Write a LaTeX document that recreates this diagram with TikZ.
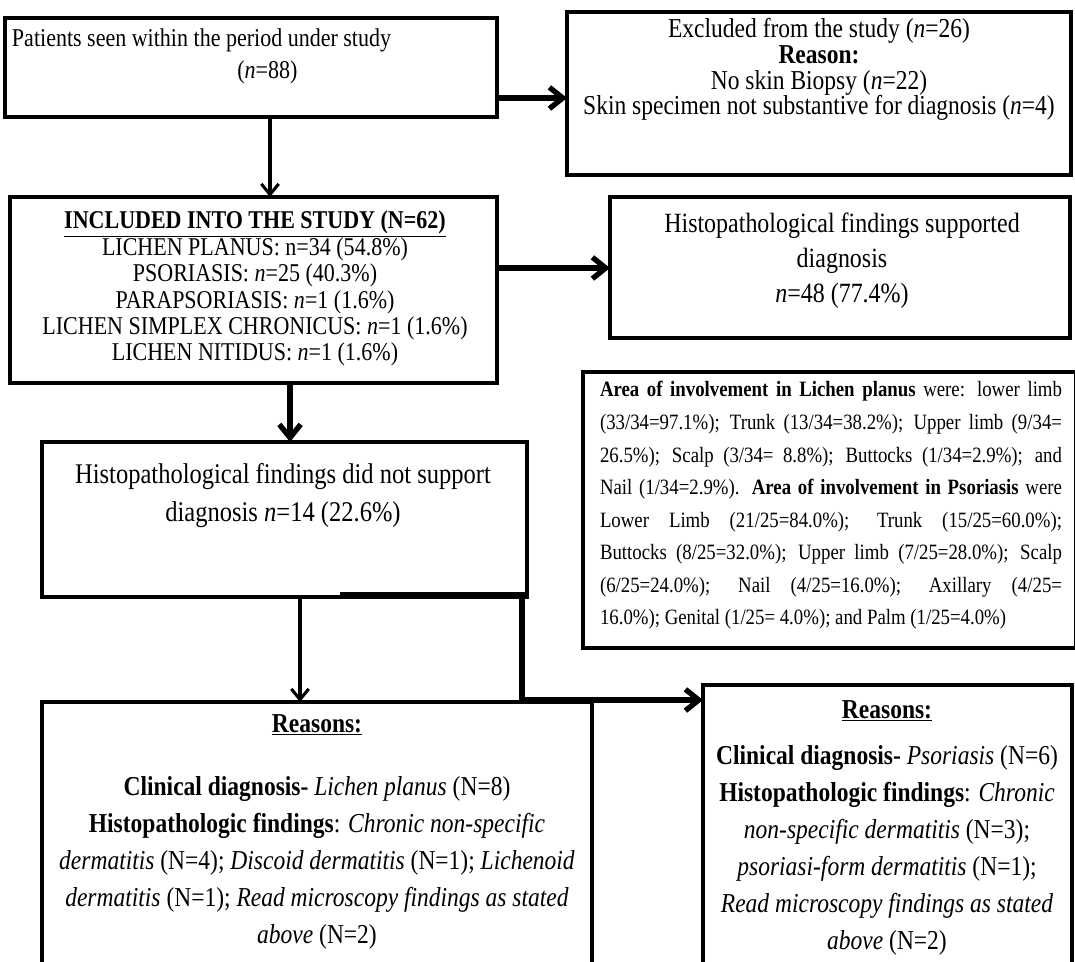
\documentclass[tikz,border=0pt]{standalone}
\usepackage{fontspec}
\setmainfont{Liberation Serif}[FakeStretch=0.86]
\usetikzlibrary{arrows.meta,fit,calc}
\newcommand\fsz[2]{\fontsize{#1}{#2}\selectfont\lineskiplimit=-30pt\relax}
\begin{document}
\begin{tikzpicture}[x=0.75pt,y=-0.75pt,
  bx/.style={draw, line width=2.6pt, inner sep=0pt, outer sep=0pt},
  tx/.style={inner sep=0pt, outer sep=0pt, align=center},
  thickarr/.style={line width=4pt, -{Straight Barb[length=10pt,width=16pt]}},
  thinarr/.style={line width=2.3pt, -{Straight Barb[length=8pt,width=13pt]}},
  ]
\useasboundingbox (0,0) rectangle (1075,962);
\fill[white] (0,0) rectangle (1075,962);
\clip (0,0) rectangle (1075,962);

% boxes
\path (5,18) coordinate (b1a) (497,117) coordinate (b1b);
\node[bx, fit=(b1a)(b1b)] (b1) {};
\path (567,12) coordinate (b2a) (1071,175) coordinate (b2b);
\node[bx, fit=(b2a)(b2b)] (b2) {};
\path (10,197) coordinate (b3a) (497,383) coordinate (b3b);
\node[bx, fit=(b3a)(b3b)] (b3) {};
\path (610,197) coordinate (b4a) (1070,338) coordinate (b4b);
\node[bx, fit=(b4a)(b4b)] (b4) {};
\path (583,372) coordinate (b5a) (1076,648) coordinate (b5b);
\node[bx, fit=(b5a)(b5b)] (b5) {};
\path (42,442) coordinate (b6a) (527,597) coordinate (b6b);
\node[bx, fit=(b6a)(b6b)] (b6) {};
\path (42,702) coordinate (b7a) (592,980) coordinate (b7b);
\node[bx, fit=(b7a)(b7b)] (b7) {};
\path (703,685) coordinate (b8a) (1072,980) coordinate (b8b);
\node[bx, fit=(b8a)(b8b)] (b8) {};

% texts (anchor=base is the baseline of the last line)
\node[tx, align=left, anchor=base west, font=\fsz{19.2pt}{24pt}] (t1) at (12,79)
  {Patients seen within the period under study\\\hspace*{169pt}(\textit{n}=88)};
\node[tx, anchor=base, font=\fsz{20.5pt}{19.3pt}] (t2) at (819,115)
  {Excluded from the study (\textit{n}=26)\\\textbf{Reason:}\\No skin Biopsy (\textit{n}=22)\\Skin specimen not substantive for diagnosis (\textit{n}=4)};
\node[tx, anchor=base, font=\fsz{19.2pt}{19.8pt}] (t3) at (255,361)
  {\textbf{\underline{INCLUDED INTO THE STUDY (N=62)}}\\LICHEN PLANUS: n=34 (54.8\%)\\PSORIASIS: \textit{n}=25 (40.3\%)\\PARAPSORIASIS: \textit{n}=1 (1.6\%)\\LICHEN SIMPLEX CHRONICUS: \textit{n}=1 (1.6\%)\\LICHEN NITIDUS: \textit{n}=1 (1.6\%)};
\node[tx, anchor=base, font=\fsz{20.9pt}{26.25pt}] (t4) at (842,303)
  {Histopathological findings supported\\diagnosis\\\textit{n}=48 (77.4\%)};
\node[tx, align=justify, text width=346.5pt, anchor=base west, font=\fsz{16.4pt}{24.4pt}] (t5) at (600,397)
  {\textbf{Area of involvement in Lichen planus} were: lower limb\linebreak
  (33/34=97.1\%); Trunk (13/34=38.2\%); Upper limb (9/34=\linebreak
  26.5\%); Scalp (3/34= 8.8\%); Buttocks (1/34=2.9\%); and\linebreak
  Nail (1/34=2.9\%). \textbf{Area of involvement in Psoriasis} were\linebreak
  Lower Limb (21/25=84.0\%); Trunk (15/25=60.0\%);\linebreak
  Buttocks (8/25=32.0\%); Upper limb (7/25=28.0\%); Scalp\linebreak
  (6/25=24.0\%); Nail (4/25=16.0\%); Axillary (4/25=\linebreak
  16.0\%); Genital (1/25= 4.0\%); and Palm (1/25=4.0\%)};
\node[tx, anchor=base, font=\fsz{21.4pt}{28.5pt}] (t6) at (283,522)
  {Histopathological findings did not support\\diagnosis \textit{n}=14 (22.6\%)};
\node[tx, anchor=base, font=\fsz{20.5pt}{27.75pt}] (t7) at (317,943)
  {\textbf{\underline{Reasons:}}\\[19.5pt]
   \textbf{Clinical diagnosis-} \textit{Lichen planus} (N=8)\\
   \textbf{Histopathologic findings}: \textit{Chronic non-specific}\\
   \textit{dermatitis} (N=4); \textit{Discoid dermatitis} (N=1); \textit{Lichenoid}\\
   \textit{dermatitis} (N=1); \textit{Read microscopy findings as stated}\\
   \textit{above} (N=2)};
\node[tx, anchor=base, font=\fsz{20.5pt}{27.75pt}] (t8) at (887,949)
  {\textbf{\underline{Reasons:}}\\[6.75pt]
   \textbf{Clinical diagnosis-} \textit{Psoriasis} (N=6)\\
   \textbf{Histopathologic findings}: \textit{Chronic}\\
   \textit{non-specific dermatitis} (N=3);\\
   \textit{psoriasi-form dermatitis} (N=1);\\
   \textit{Read microscopy findings as stated}\\
   \textit{above} (N=2)};

% connectors
\coordinate (c1) at (0,98);
\draw[thickarr] (b1.east |- c1) -- (b2.west |- c1);
\coordinate (c2) at (270,0);
\draw[thinarr] (b1.south -| c2) -- (b3.north -| c2);
\coordinate (c3) at (0,268);
\draw[thickarr] (b3.east |- c3) -- (b4.west |- c3);
\coordinate (c4) at (290,0);
\draw[thickarr] (b3.south -| c4) -- (b6.north -| c4);
\coordinate (c5) at (300,0);
\draw[thinarr] (b6.south -| c5) -- (b7.north -| c5);
\coordinate (c6) at (340,595);
\coordinate (c7) at (522,700);
\draw[thickarr] (c6) -- (c6 -| c7) -- (c7) -- (b8.west |- c7);
\end{tikzpicture}
\end{document}
